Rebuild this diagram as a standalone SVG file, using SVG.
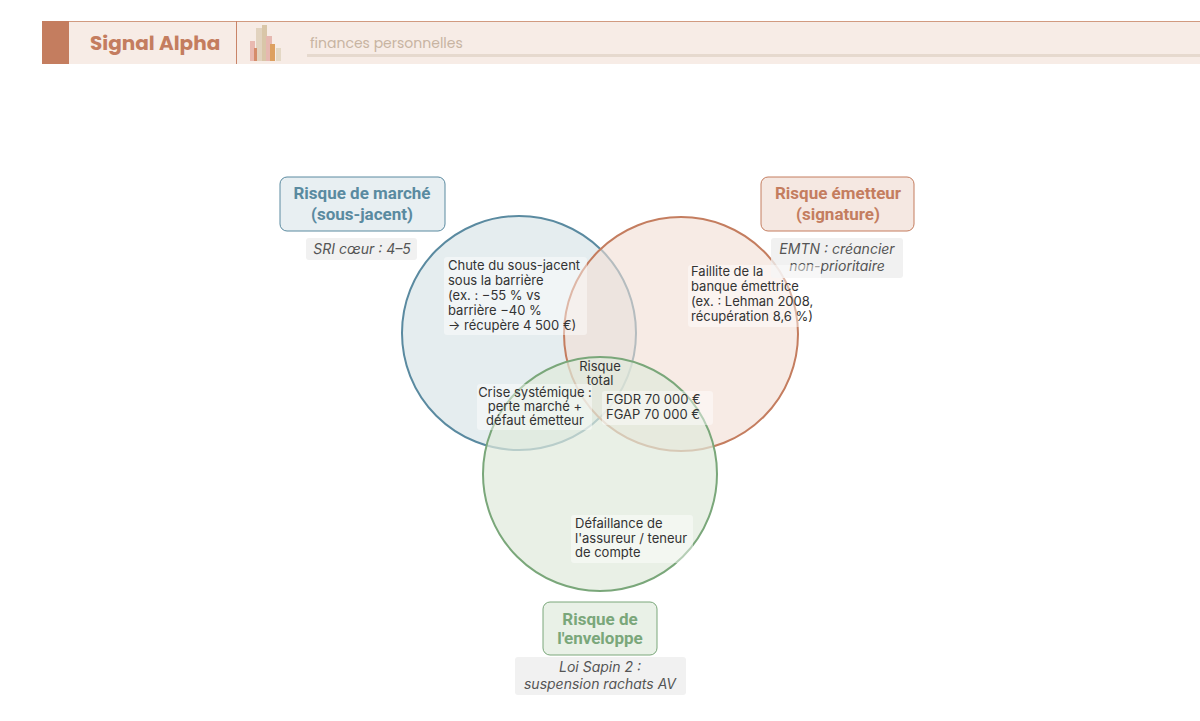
<svg xmlns="http://www.w3.org/2000/svg" width="1200" height="721" viewBox="0 0 1200 721">
<style>
.t{font-family:Inter,"Liberation Sans",sans-serif;font-size:13px;fill:#333}
.ti{font-family:Inter,"Liberation Sans",sans-serif;font-size:14px;font-style:italic;fill:#555}
.h{font-family:Roboto,"Liberation Sans",sans-serif;font-size:17px;font-weight:bold}
.lb{fill:#fff;fill-opacity:.45;rx:3}
.nb{fill:#eeeeee;fill-opacity:.8}
</style>
<rect width="1200" height="721" fill="#fff"/>
<g id="header">
<rect x="42" y="21" width="1160" height="43" fill="#f7ece6"/>
<line x1="42" y1="21.5" x2="1200" y2="21.5" stroke="#d19a80"/>
<rect x="42" y="21" width="27" height="43" fill="#c47d5f"/>
<line x1="236.5" y1="21" x2="236.5" y2="64" stroke="#c98468"/>
<text x="90" y="50" font-family="Poppins,Lato,'Liberation Sans',sans-serif" font-size="20" font-weight="bold" fill="#c47d5f">Signal Alpha</text>
<rect x="250" y="41" width="5" height="20" fill="#e9b9b0"/>
<rect x="256" y="28" width="6" height="33" fill="#e2d3bf"/>
<rect x="262" y="25" width="5" height="36" fill="#d9c6a8"/>
<rect x="266" y="36" width="6" height="25" fill="#e6b8b0"/>
<rect x="270" y="44" width="5" height="17" fill="#dda060"/>
<rect x="276" y="48" width="5" height="13" fill="#e4d8c5"/>
<rect x="254" y="48" width="3" height="13" fill="#d58c6a"/>
<text x="310" y="48" font-family="Poppins,Lato,'Liberation Sans',sans-serif" font-size="14" fill="#c8b4a2">finances personnelles</text>
<rect x="307" y="54" width="893" height="3" fill="#e6d9ce"/>
</g>
<g id="circles">
<circle cx="519" cy="333" r="117" fill="#dce7ea" fill-opacity=".75" stroke="#5a8aa0" stroke-width="2"/>
<circle cx="681" cy="334" r="117" fill="#f2ddd3" fill-opacity=".6" stroke="#c47d5f" stroke-width="2"/>
<circle cx="600" cy="474" r="117" fill="#dfe9dc" fill-opacity=".7" stroke="#7aa77a" stroke-width="2"/>
</g>
<g id="marche">
<rect x="280" y="177" width="165" height="54" rx="7" fill="#e8eff2" stroke="#5a8aa0"/>
<text class="h" x="362" y="199" text-anchor="middle" fill="#5a8aa0">Risque de marché</text>
<text class="h" x="362" y="220" text-anchor="middle" fill="#5a8aa0">(sous-jacent)</text>
<rect class="nb" x="306" y="238" width="111" height="22" rx="3"/>
<text class="ti" x="362" y="254" text-anchor="middle">SRI cœur : 4–5</text>
</g>
<g id="emetteur">
<rect x="761" y="177" width="153" height="54" rx="7" fill="#f5e8e2" stroke="#c47d5f"/>
<text class="h" x="838" y="199" text-anchor="middle" fill="#c47d5f">Risque émetteur</text>
<text class="h" x="838" y="220" text-anchor="middle" fill="#c47d5f">(signature)</text>
<rect class="nb" x="771" y="238" width="132" height="40" rx="3"/>
<text class="ti" x="837" y="254" text-anchor="middle">EMTN : créancier</text>
<text class="ti" x="837" y="271" text-anchor="middle">non-prioritaire</text>
</g>
<g id="enveloppe">
<rect x="543" y="602" width="114" height="53" rx="7" fill="#e9f1e7" stroke="#7aa77a"/>
<text class="h" x="600" y="625" text-anchor="middle" fill="#7aa77a">Risque de</text>
<text class="h" x="600" y="644" text-anchor="middle" fill="#7aa77a">l'enveloppe</text>
<rect class="nb" x="515" y="657" width="171" height="38" rx="3"/>
<text class="ti" x="600" y="672" text-anchor="middle">Loi Sapin 2 :</text>
<text class="ti" x="600" y="689" text-anchor="middle">suspension rachats AV</text>
</g>
<g id="regions">
<rect class="lb" x="444" y="257" width="143" height="78"/>
<text class="t" x="448" y="270">Chute du sous-jacent</text>
<text class="t" x="448" y="285">sous la barrière</text>
<text class="t" x="448" y="300">(ex. : −55 % vs</text>
<text class="t" x="448" y="315">barrière −40 %</text>
<text class="t" x="448" y="330">→ récupère 4 500 €)</text>
<rect class="lb" x="688" y="265" width="133" height="62"/>
<text class="t" x="691" y="276">Faillite de la</text>
<text class="t" x="691" y="291">banque émettrice</text>
<text class="t" x="691" y="306">(ex. : Lehman 2008,</text>
<text class="t" x="691" y="321">récupération 8,6 %)</text>
<text class="t" x="600" y="371" text-anchor="middle" font-size="12">Risque</text>
<text class="t" x="600" y="385" text-anchor="middle" font-size="12">total</text>
<rect class="lb" x="477" y="384" width="115" height="46"/>
<text class="t" x="535" y="397" text-anchor="middle" font-size="12">Crise systémique :</text>
<text class="t" x="535" y="411" text-anchor="middle" font-size="12">perte marché +</text>
<text class="t" x="535" y="425" text-anchor="middle" font-size="12">défaut émetteur</text>
<rect class="lb" x="602" y="391" width="111" height="34"/>
<text class="t" x="606" y="404">FGDR 70 000 €</text>
<text class="t" x="606" y="419">FGAP 70 000 €</text>
<rect class="lb" x="571" y="515" width="122" height="48"/>
<text class="t" x="575" y="528">Défaillance de</text>
<text class="t" x="575" y="543">l'assureur / teneur</text>
<text class="t" x="575" y="557">de compte</text>
</g>
<g id="connectors"/>
</svg>
